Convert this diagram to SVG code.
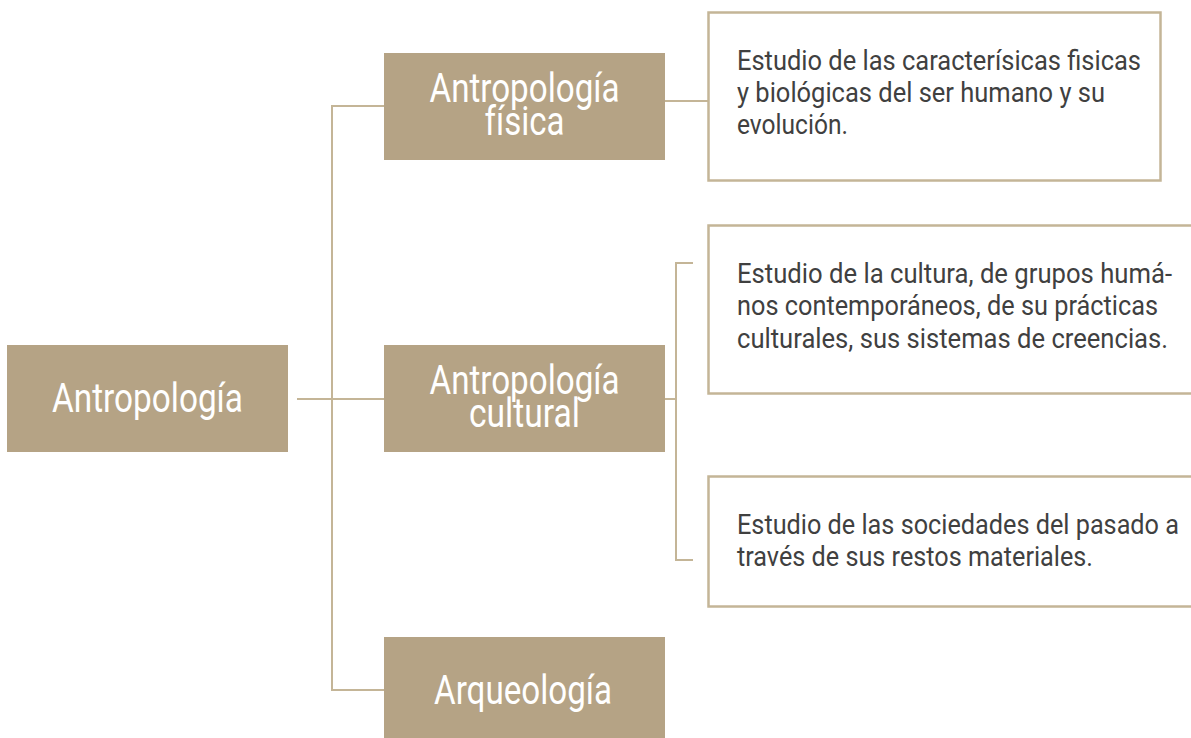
<svg xmlns="http://www.w3.org/2000/svg" width="1191" height="738" viewBox="0 0 1191 738">
<style>
.node{fill:#b5a385}
.title{font-family:Roboto,"Liberation Sans",sans-serif;font-size:40px;fill:#ffffff;text-anchor:middle}
.desc{fill:#ffffff;stroke:#c4b597;stroke-width:2.5}
.dt{font-family:Roboto,"Liberation Sans",sans-serif;font-size:28px;fill:#404040}
.conn{fill:none;stroke:#c4b597;stroke-width:2}
</style>
<rect width="1191" height="738" fill="#ffffff"/>
<g id="connectors">
<path class="conn" d="M297 399H384"/>
<path class="conn" d="M384 106H332V690H384"/>
<path class="conn" d="M665 101H708"/>
<path class="conn" d="M665 399H676"/>
<path class="conn" d="M693 263H676V560H693"/>
</g>
<g id="antropologia">
<rect class="node" x="7" y="345" width="281" height="107"/>
<text class="title" x="147.5" y="412" textLength="191" lengthAdjust="spacingAndGlyphs">Antropología</text>
</g>
<g id="fisica">
<rect class="node" x="384" y="53" width="281" height="107"/>
<text class="title" x="524.5" y="102" textLength="190" lengthAdjust="spacingAndGlyphs">Antropología</text>
<text class="title" x="524.5" y="135" textLength="80" lengthAdjust="spacingAndGlyphs">física</text>
</g>
<g id="cultural">
<rect class="node" x="384" y="345" width="281" height="107"/>
<text class="title" x="524.5" y="394" textLength="190" lengthAdjust="spacingAndGlyphs">Antropología</text>
<text class="title" x="524.5" y="427" textLength="111" lengthAdjust="spacingAndGlyphs">cultural</text>
</g>
<g id="arqueologia">
<rect class="node" x="384" y="637" width="281" height="101"/>
<text class="title" x="523" y="704" textLength="178" lengthAdjust="spacingAndGlyphs">Arqueología</text>
</g>
<g id="desc-fisica">
<rect class="desc" x="708.5" y="12.5" width="452" height="168"/>
<text class="dt" x="737" y="70" textLength="404" lengthAdjust="spacingAndGlyphs">Estudio de las caracterísicas fisicas</text>
<text class="dt" x="737" y="102" textLength="368" lengthAdjust="spacingAndGlyphs">y biológicas del ser humano y su</text>
<text class="dt" x="737" y="134" textLength="111" lengthAdjust="spacingAndGlyphs">evolución.</text>
</g>
<g id="desc-cultural">
<rect class="desc" x="708.5" y="225.5" width="490" height="168"/>
<text class="dt" x="737" y="283" textLength="435" lengthAdjust="spacingAndGlyphs">Estudio de la cultura, de grupos humá-</text>
<text class="dt" x="737" y="315" textLength="421" lengthAdjust="spacingAndGlyphs">nos contemporáneos, de su prácticas</text>
<text class="dt" x="737" y="348" textLength="431" lengthAdjust="spacingAndGlyphs">culturales, sus sistemas de creencias.</text>
</g>
<g id="desc-arqueologia">
<rect class="desc" x="708.5" y="476.5" width="490" height="130"/>
<text class="dt" x="737" y="534" textLength="442" lengthAdjust="spacingAndGlyphs">Estudio de las sociedades del pasado a</text>
<text class="dt" x="737" y="566" textLength="356" lengthAdjust="spacingAndGlyphs">través de sus restos materiales.</text>
</g>
</svg>
